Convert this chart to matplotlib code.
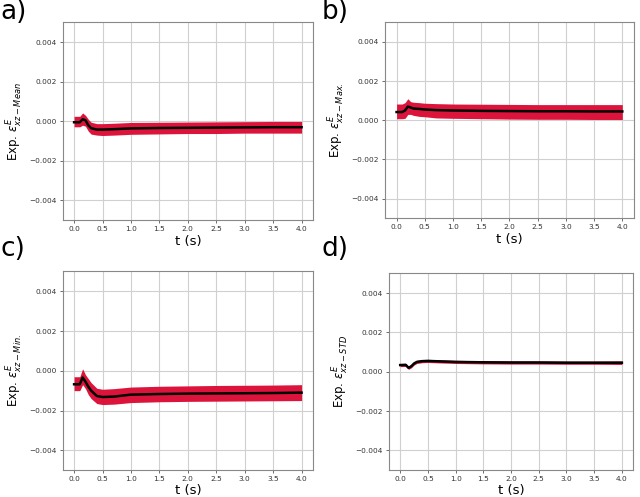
import matplotlib
matplotlib.use("Agg")
import matplotlib.pyplot as plt

# time points (s)
t = [0.0, 0.1, 0.15, 0.2, 0.25, 0.3, 0.4, 0.5, 0.7, 1.0, 1.5, 2.0, 2.5, 3.0, 3.5, 4.0]

# a) mean
mean_line = [-0.00005, -0.00005, 0.0001, 0.00005, -0.0002, -0.00035, -0.00042, -0.00042, -0.0004, -0.00036, -0.00034, -0.00033, -0.00032, -0.00031, -0.0003, -0.0003]
mean_upp = [0.00025, 0.00025, 0.00042, 0.0003, 0.0001, -0.00005, -0.00012, -0.00012, -0.0001, -0.00006, -0.00005, -0.00004, -0.00003, -0.00002, -0.00001, -0.00001]
mean_low = [-0.00028, -0.00028, -0.0002, -0.00025, -0.0005, -0.00065, -0.0007, -0.00072, -0.0007, -0.00066, -0.00064, -0.00062, -0.00062, -0.0006, -0.0006, -0.0006]

# b) max
max_line = [0.00042, 0.00042, 0.0005, 0.0007, 0.00065, 0.0006, 0.00058, 0.00055, 0.00052, 0.0005, 0.00048, 0.00047, 0.00046, 0.00046, 0.00045, 0.00045]
max_upp = [0.00083, 0.00083, 0.0009, 0.0011, 0.00095, 0.00092, 0.0009, 0.00087, 0.00085, 0.00083, 0.00082, 0.00081, 0.0008, 0.0008, 0.0008, 0.0008]
max_low = [0.00008, 0.00008, 0.0001, 0.0003, 0.0003, 0.00025, 0.0002, 0.00018, 0.00012, 0.0001, 0.00008, 0.00006, 0.00005, 0.00005, 0.00004, 0.00004]

# c) min
min_line = [-0.00068, -0.00068, -0.00034, -0.00055, -0.0008, -0.001, -0.00127, -0.00132, -0.0013, -0.0012, -0.00117, -0.00115, -0.00114, -0.00113, -0.00112, -0.0011]
min_upp = [-0.0003, -0.0003, 0.0001, -0.0002, -0.0004, -0.0006, -0.00088, -0.00093, -0.0009, -0.00082, -0.00078, -0.00076, -0.00074, -0.00073, -0.00072, -0.0007]
min_low = [-0.001, -0.001, -0.0007, -0.0009, -0.0012, -0.0014, -0.00165, -0.0017, -0.00168, -0.0016, -0.00156, -0.00154, -0.00153, -0.00152, -0.00151, -0.0015]

# d) std
std_line = [0.00034, 0.00035, 0.0002, 0.00028, 0.00042, 0.0005, 0.00054, 0.00055, 0.00053, 0.0005, 0.00048, 0.00047, 0.00047, 0.00046, 0.00046, 0.00046]
std_upp = [0.00042, 0.00043, 0.00028, 0.00036, 0.0005, 0.00058, 0.00062, 0.00063, 0.00061, 0.00058, 0.00056, 0.00055, 0.00055, 0.00054, 0.00054, 0.00055]
std_low = [0.00026, 0.00027, 0.00012, 0.0002, 0.00034, 0.00042, 0.00046, 0.00047, 0.00045, 0.00042, 0.0004, 0.00039, 0.00039, 0.00038, 0.00038, 0.00037]

panels = [
    ("a)", "Mean", mean_line, mean_upp, mean_low),
    ("b)", "Max.", max_line, max_upp, max_low),
    ("c)", "Min.", min_line, min_upp, min_low),
    ("d)", "STD", std_line, std_upp, std_low),
]

# axes boxes in figure fraction (left, bottom, width, height)
boxes = [
    [0.098, 0.557, 0.391, 0.398],
    [0.602, 0.561, 0.388, 0.394],
    [0.098, 0.054, 0.391, 0.400],
    [0.608, 0.054, 0.381, 0.396],
]
label_pos = [(0.0, 0.975), (0.503, 0.975), (0.0, 0.498), (0.503, 0.498)]

fig = plt.figure(figsize=(6.4, 4.97), dpi=100)

for (tag, name, line, upp, low), box, lp in zip(panels, boxes, label_pos):
    ax = fig.add_axes(box)
    ax.fill_between(t, low, upp, color="crimson", linewidth=0, zorder=2)
    ax.plot(t, line, color="black", linewidth=1.8, zorder=3)
    ax.set_xlim(-0.2, 4.2)
    ax.set_ylim(-0.005, 0.005)
    ax.set_xticks([0.0, 0.5, 1.0, 1.5, 2.0, 2.5, 3.0, 3.5, 4.0])
    ax.set_yticks([-0.004, -0.002, 0.0, 0.002, 0.004])
    ax.set_yticklabels(["\u22120.004", "\u22120.002", "0.000", "0.002", "0.004"])
    ax.tick_params(labelsize=5.3, colors="#333333", length=2.5, width=0.5, pad=2)
    ax.grid(True, color="#d0d0d0", linewidth=0.8, zorder=0)
    ax.set_axisbelow(True)
    for sp in ax.spines.values():
        sp.set_color("#888888")
    ax.set_xlabel("t (s)", fontsize=9.5, labelpad=1.5)
    ax.set_ylabel(r"Exp. $\varepsilon^{E}_{xz-%s}$" % name, fontsize=8.5, labelpad=3)
    fig.text(lp[0], lp[1], tag, fontsize=19, ha="left", va="center")

plt.savefig("out.png", dpi=100)
